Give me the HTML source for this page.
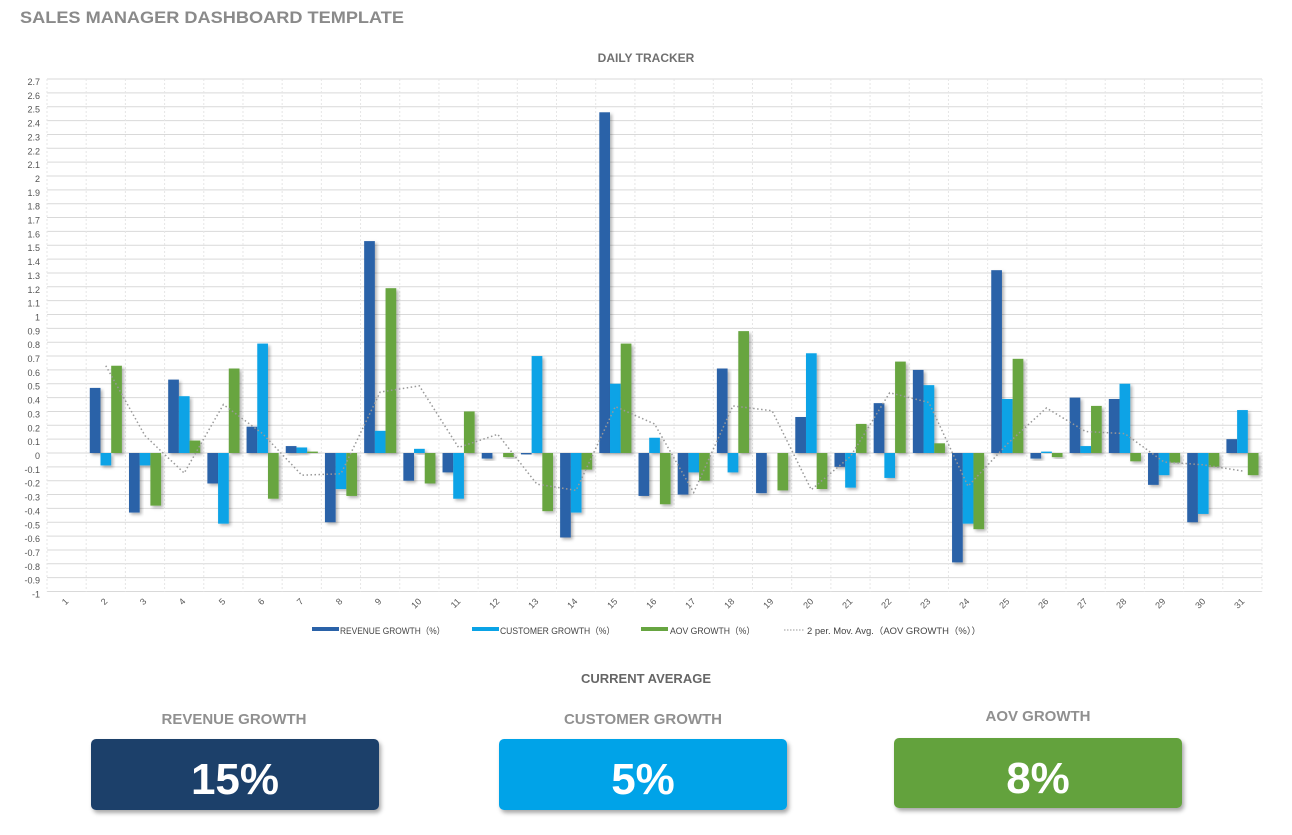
<!DOCTYPE html>
<html><head><meta charset="utf-8"><style>
body{margin:0;background:#fff;width:1292px;height:830px;overflow:hidden;font-family:"Liberation Sans",sans-serif}
svg text{font-family:"Liberation Sans",sans-serif}
</style></head><body>
<svg id="s" width="1292" height="830" xmlns="http://www.w3.org/2000/svg">
<defs>
<filter id="sh" x="-20%" y="-20%" width="160%" height="160%"><feDropShadow dx="2" dy="2" stdDeviation="1.5" flood-color="#000" flood-opacity="0.3"/></filter>
<filter id="bs" x="-10%" y="-10%" width="130%" height="140%"><feDropShadow dx="2" dy="3" stdDeviation="2" flood-color="#000" flood-opacity="0.35"/></filter>
</defs>
<text x="20" y="23" font-size="17" font-weight="bold" fill="#8a8a8a" textLength="384" lengthAdjust="spacingAndGlyphs">SALES MANAGER DASHBOARD TEMPLATE</text>
<text x="646" y="62" font-size="12" font-weight="bold" fill="#707070" text-anchor="middle">DAILY TRACKER</text>
<g id="grid"></g>
<g id="bars"></g>
<g id="yl" font-size="9" fill="#555" text-anchor="end">
<text x="40" y="85">2.7</text><text x="40" y="98.9">2.6</text><text x="40" y="112.7">2.5</text><text x="40" y="126.6">2.4</text><text x="40" y="140.4">2.3</text><text x="40" y="154.3">2.2</text><text x="40" y="168.1">2.1</text><text x="40" y="182">2</text><text x="40" y="195.8">1.9</text><text x="40" y="209.7">1.8</text><text x="40" y="223.5">1.7</text><text x="40" y="237.4">1.6</text><text x="40" y="251.2">1.5</text><text x="40" y="265.1">1.4</text><text x="40" y="278.9">1.3</text><text x="40" y="292.8">1.2</text><text x="40" y="306.6">1.1</text><text x="40" y="320.5">1</text><text x="40" y="334.3">0.9</text><text x="40" y="348.2">0.8</text><text x="40" y="362">0.7</text><text x="40" y="375.9">0.6</text><text x="40" y="389.7">0.5</text><text x="40" y="403.6">0.4</text><text x="40" y="417.4">0.3</text><text x="40" y="431.3">0.2</text><text x="40" y="445.1">0.1</text><text x="40" y="459">0</text><text x="40" y="472.9">-0.1</text><text x="40" y="486.7">-0.2</text><text x="40" y="500.6">-0.3</text><text x="40" y="514.4">-0.4</text><text x="40" y="528.3">-0.5</text><text x="40" y="542.1">-0.6</text><text x="40" y="556">-0.7</text><text x="40" y="569.8">-0.8</text><text x="40" y="583.7">-0.9</text><text x="40" y="597.5">-1</text>
</g>
<g font-size="9" fill="#555" text-anchor="end">
<text transform="translate(69,602) rotate(-45)">1</text><text transform="translate(108,602) rotate(-45)">2</text><text transform="translate(147,602) rotate(-45)">3</text><text transform="translate(186,602) rotate(-45)">4</text><text transform="translate(226,602) rotate(-45)">5</text><text transform="translate(265,602) rotate(-45)">6</text><text transform="translate(304,602) rotate(-45)">7</text><text transform="translate(343,602) rotate(-45)">8</text><text transform="translate(382,602) rotate(-45)">9</text><text transform="translate(422,602) rotate(-45)">10</text><text transform="translate(461,602) rotate(-45)">11</text><text transform="translate(500,602) rotate(-45)">12</text><text transform="translate(539,602) rotate(-45)">13</text><text transform="translate(578,602) rotate(-45)">14</text><text transform="translate(618,602) rotate(-45)">15</text><text transform="translate(657,602) rotate(-45)">16</text><text transform="translate(696,602) rotate(-45)">17</text><text transform="translate(735,602) rotate(-45)">18</text><text transform="translate(774,602) rotate(-45)">19</text><text transform="translate(814,602) rotate(-45)">20</text><text transform="translate(853,602) rotate(-45)">21</text><text transform="translate(892,602) rotate(-45)">22</text><text transform="translate(931,602) rotate(-45)">23</text><text transform="translate(970,602) rotate(-45)">24</text><text transform="translate(1010,602) rotate(-45)">25</text><text transform="translate(1049,602) rotate(-45)">26</text><text transform="translate(1088,602) rotate(-45)">27</text><text transform="translate(1127,602) rotate(-45)">28</text><text transform="translate(1166,602) rotate(-45)">29</text><text transform="translate(1206,602) rotate(-45)">30</text><text transform="translate(1245,602) rotate(-45)">31</text>
</g>
<g font-size="9" fill="#444">
<rect x="312" y="627" width="27" height="4" fill="#2a62a8"/><text x="340" y="634" textLength="105" lengthAdjust="spacingAndGlyphs">REVENUE GROWTH（%）</text>
<rect x="472" y="627" width="27" height="4" fill="#0aa3e6"/><text x="500" y="634" textLength="115" lengthAdjust="spacingAndGlyphs">CUSTOMER GROWTH（%）</text>
<rect x="641" y="627" width="27" height="4" fill="#67a541"/><text x="670" y="634" textLength="85" lengthAdjust="spacingAndGlyphs">AOV GROWTH（%）</text>
<line x1="784" y1="630" x2="805" y2="630" stroke="#999" stroke-dasharray="1.5,1.5"/><text x="807" y="634" textLength="174" lengthAdjust="spacingAndGlyphs">2 per. Mov. Avg.（AOV GROWTH（%））</text>
</g>
<text x="646" y="683" font-size="13" font-weight="bold" fill="#666" text-anchor="middle">CURRENT AVERAGE</text>
<text x="234" y="724" font-size="15" font-weight="bold" fill="#909090" text-anchor="middle">REVENUE GROWTH</text>
<text x="643" y="724" font-size="15" font-weight="bold" fill="#909090" text-anchor="middle">CUSTOMER GROWTH</text>
<text x="1038" y="721" font-size="15" font-weight="bold" fill="#909090" text-anchor="middle">AOV GROWTH</text>
<rect x="91" y="739" width="288" height="71" rx="5" fill="#1e416b" filter="url(#bs)"/>
<rect x="499" y="739" width="288" height="71" rx="5" fill="#02a3e8" filter="url(#bs)"/>
<rect x="894" y="738" width="288" height="70" rx="5" fill="#64a23d" filter="url(#bs)"/>
<text x="235" y="794" font-size="44" font-weight="bold" fill="#fff" text-anchor="middle">15%</text>
<text x="643" y="794" font-size="44" font-weight="bold" fill="#fff" text-anchor="middle">5%</text>
<text x="1038" y="793" font-size="44" font-weight="bold" fill="#fff" text-anchor="middle">8%</text>
</svg>
<script>
var NS="http://www.w3.org/2000/svg";
function el(p,t,a){var e=document.createElementNS(NS,t);for(var k in a)e.setAttribute(k,a[k]);p.appendChild(e);return e;}
var g=document.getElementById('grid'),b=document.getElementById('bars');
var L=47,R=1262,Z=453,K=138.5,W=(R-L)/31;
function Y(v){return Z-v*K;}
for(var i=-10;i<=27;i++){var y=Y(i/10);el(g,'line',{x1:L,x2:R,y1:y,y2:y,stroke:'#d9d9d9','stroke-width':1});}
for(var i=0;i<=31;i++){var x=L+i*W;el(g,'line',{x1:x,x2:x,y1:Y(2.7),y2:Y(-1),stroke:'#e6e6e6','stroke-dasharray':'2,2'});}
var d=[[0,0,0],[.47,-.09,.63],[-.43,-.09,-.38],[.53,.41,.09],[-.22,-.51,.61],[.19,.79,-.33],[.05,.04,.01],[-.5,-.26,-.31],[1.53,.16,1.19],[-.2,.03,-.22],[-.14,-.33,.3],[-.04,0,-.03],[-.01,.7,-.42],[-.61,-.43,-.12],[2.46,.5,.79],[-.31,.11,-.37],[-.3,-.14,-.2],[.61,-.14,.88],[-.29,0,-.27],[.26,.72,-.26],[-.1,-.25,.21],[.36,-.18,.66],[.6,.49,.07],[-.79,-.51,-.55],[1.32,.39,.68],[-.04,.01,-.03],[.4,.05,.34],[.39,.5,-.06],[-.23,-.16,-.07],[-.5,-.44,-.1],[.1,.31,-.16]];
var c=['#2a62a8','#0aa3e6','#67a541'],bw=10.7;
d.forEach(function(r,i){r.forEach(function(v,j){if(!v)return;var x=L+i*W+3.6+j*bw;var y1=Y(Math.max(v,0)),y2=Y(Math.min(v,0));el(b,'rect',{x:x,y:y1,width:bw,height:y2-y1,fill:c[j],filter:'url(#sh)'});});});
var pts=[];for(var i=1;i<31;i++){var v=i==1?d[1][2]:(d[i][2]+d[i-1][2])/2;pts.push((L+(i+.5)*W)+','+Y(v));}
el(b,'polyline',{points:pts.join(' '),fill:'none',stroke:'#999','stroke-width':1.5,'stroke-dasharray':'1.5,2.5'});
</script>
</body></html>
